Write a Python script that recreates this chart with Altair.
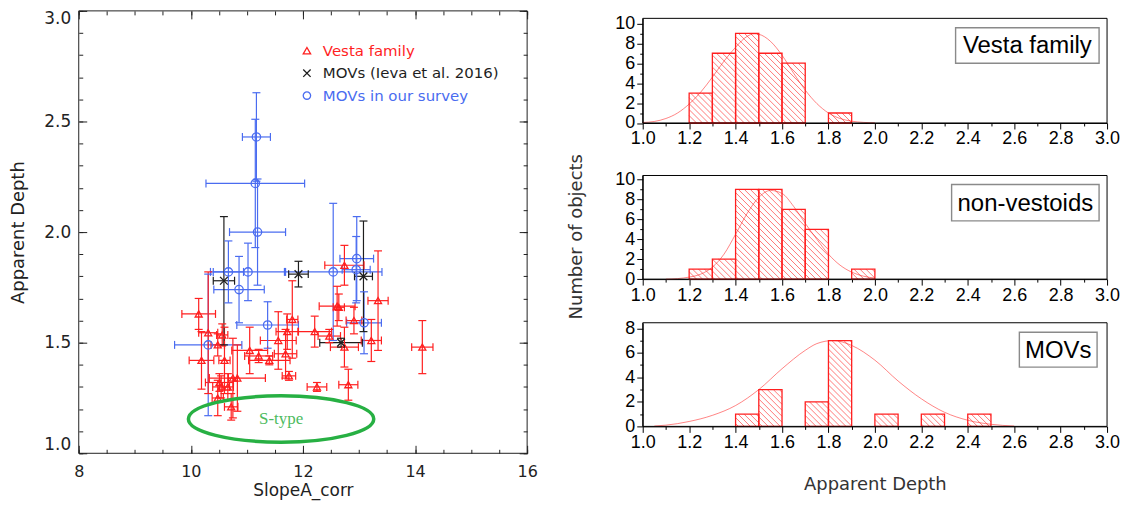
import altair as alt
import numpy as np
import pandas as pd

# ---------------- left panel data (SlopeA_corr vs Apparent Depth) ----------------
# Vesta family (red triangles)
vesta_x = [10.14, 10.19, 10.31, 10.48, 10.56, 10.60, 10.51, 10.54, 10.48, 10.72, 10.75,
           10.83, 11.05, 11.21, 11.40, 11.56, 11.69, 11.72, 11.81, 11.75, 12.21, 12.47,
           12.25, 12.61, 12.64, 12.74, 12.74, 12.81, 12.91, 13.22, 13.34, 14.13, 10.66]
vesta_y = [1.63, 1.42, 1.545, 1.49, 1.535, 1.42, 1.32, 1.30, 1.25, 1.21, 1.34,
           1.34, 1.465, 1.44, 1.42, 1.51, 1.45, 1.55, 1.605, 1.35, 1.55, 1.53,
           1.30, 1.665, 1.66, 1.85, 1.48, 1.31, 1.60, 1.51, 1.69, 1.48, 1.30]
vesta_xerr = [0.30, 0.22, 0.17, 0.12, 0.10, 0.10, 0.25, 0.15, 0.10, 0.12, 0.08,
              0.50, 0.32, 0.25, 0.37, 0.32, 0.20, 0.20, 0.10, 0.12, 0.30, 0.20,
              0.175, 0.32, 0.10, 0.35, 0.25, 0.17, 0.14, 0.18, 0.18, 0.19, 0.10]
vesta_yerr = [0.07, 0.13, 0.275, 0.05, 0.05, 0.15, 0.04, 0.05, 0.08, 0.06, 0.18,
              0.15, 0.105, 0.03, 0.02, 0.13, 0.11, 0.08, 0.175, 0.02, 0.07, 0.03,
              0.02, 0.09, 0.06, 0.09, 0.09, 0.07, 0.06, 0.095, 0.225, 0.12, 0.06]

# MOVs (Ieva et al. 2016) (black crosses)
ieva_x = [10.59, 11.92, 13.08, 12.68]
ieva_y = [1.78, 1.81, 1.80, 1.50]
ieva_xerr = [0.19, 0.175, 0.16, 0.38]
ieva_yerr = [0.29, 0.058, 0.25, 0.02]

# MOVs in our survey (blue circles)
our_x = [11.17, 11.15, 11.19, 10.67, 11.02, 12.54, 12.95, 12.96, 13.09, 10.86, 11.37, 10.31]
our_y = [2.43, 2.22, 2.00, 1.82, 1.82, 1.82, 1.83, 1.88, 1.59, 1.74, 1.58, 1.49]
our_xerr = [0.25, 0.88, 0.50, 0.27, 0.67, 0.87, 0.25, 0.30, 0.31, 0.45, 0.55, 0.60]
our_yerr = [0.20, 0.29, 0.24, 0.14, 0.13, 0.31, 0.15, 0.19, 0.14, 0.15, 0.105, 0.32]

legend_labels = ["Vesta family", "MOVs (Ieva et al. 2016)", "MOVs in our survey"]

stype_label = "S-type"
stype_center_x = [11.61]
stype_center_y = [1.155]

# ---------------- right panels data (histograms of Apparent Depth) ----------------
bin_left = [round(1.0 + 0.1 * i, 1) for i in range(20)]
vesta_counts = [0, 0, 3, 7, 9, 7, 6, 0, 1, 0, 0, 0, 0, 0, 0, 0, 0, 0, 0, 0]
nonvest_counts = [0, 0, 1, 2, 9, 9, 7, 5, 0, 1, 0, 0, 0, 0, 0, 0, 0, 0, 0, 0]
movs_counts = [0, 0, 0, 0, 1, 3, 0, 2, 7, 0, 1, 0, 1, 0, 1, 0, 0, 0, 0, 0]

vesta_fit_x = [1.00, 1.05, 1.10, 1.15, 1.20, 1.25, 1.30, 1.35, 1.40, 1.45, 1.48, 1.50,
               1.55, 1.60, 1.65, 1.70, 1.75, 1.80, 1.85, 1.90, 1.95, 2.00]
vesta_fit_y = [0.05, 0.15, 0.45, 1.0, 1.9, 3.1, 4.6, 6.2, 7.6, 8.7, 8.95, 8.9,
               8.2, 6.8, 5.0, 3.3, 1.95, 1.0, 0.45, 0.18, 0.06, 0.02]
nonvest_fit_x = [1.10, 1.15, 1.20, 1.25, 1.30, 1.35, 1.40, 1.45, 1.50, 1.55, 1.60,
                 1.65, 1.70, 1.75, 1.80, 1.85, 1.90, 1.95, 2.00]
nonvest_fit_y = [0.0, 0.05, 0.2, 0.5, 1.2, 2.5, 4.5, 6.6, 8.2, 8.9, 8.6,
                 7.3, 5.6, 4.0, 2.5, 1.4, 0.7, 0.3, 0.1]
movs_fit_x = [1.05, 1.10, 1.20, 1.30, 1.40, 1.50, 1.60, 1.70, 1.75, 1.82, 1.90,
              2.00, 2.10, 2.20, 2.30, 2.40, 2.50, 2.60]
movs_fit_y = [0.03, 0.1, 0.4, 0.9, 1.7, 3.0, 4.7, 6.2, 6.75, 7.0, 6.6,
              5.4, 3.7, 2.25, 1.15, 0.5, 0.17, 0.03]

# ---------------- styles ----------------
RED = "#ff1f1f"
BLUE = "#4a6cf0"
BLACK = "#1e1e1e"
TXT = "#222222"
HFONT = "DejaVu Sans"
AFONT = "Liberation Sans"
XSHAPE = "M-1,-1L1,1M-1,1L1,-1"

LW, LH = 450, 444          # left plot area
RW = 466                   # right plot width


def series(xs, ys, xe, ye, col, shp, sz):
    xs, ys, xe, ye = map(np.asarray, (xs, ys, xe, ye))
    return pd.DataFrame({"x": xs, "y": ys, "xlo": xs - xe, "xhi": xs + xe,
                         "ylo": ys - ye, "yhi": ys + ye,
                         "col": col, "shp": shp, "sz": sz})


pts = pd.concat([
    series(our_x, our_y, our_xerr, our_yerr, BLUE, "circle", 70),
    series(vesta_x, vesta_y, vesta_xerr, vesta_yerr, RED, "triangle-up", 50),
    series(ieva_x, ieva_y, ieva_xerr, ieva_yerr, BLACK, XSHAPE, 60),
], ignore_index=True)

vcaps = pd.concat([pts[["x", "ylo", "col"]].rename(columns={"ylo": "y"}),
                   pts[["x", "yhi", "col"]].rename(columns={"yhi": "y"})], ignore_index=True)
hcaps = pd.concat([pts[["xlo", "y", "col"]].rename(columns={"xlo": "x"}),
                   pts[["xhi", "y", "col"]].rename(columns={"xhi": "x"})], ignore_index=True)

XS = alt.Scale(domain=[8, 16], nice=False, zero=False)
YS = alt.Scale(domain=[1.0, 3.0], nice=False, zero=False)

x_major_vals = [8, 10, 12, 14, 16]
x_minor_vals = [round(8 + 0.5 * i, 1) for i in range(17)]
y_major_vals = [1.0, 1.5, 2.0, 2.5, 3.0]
y_minor_vals = [round(1.0 + 0.1 * i, 1) for i in range(21)]


def tick_axis(orient, values, offset, size):
    return alt.Axis(orient=orient, values=values, offset=offset, tickSize=size,
                    labels=False, domain=False, grid=False, tickColor=TXT, tickWidth=1)


x_major = alt.Axis(orient="bottom", values=x_major_vals, offset=-8, tickSize=8,
                   domain=False, grid=False, tickColor=TXT, format="d",
                   labelFont=HFONT, labelFontSize=16, labelColor=TXT, labelPadding=10,
                   labelFlush=False, titleFont=HFONT, titleFontSize=17,
                   titleFontWeight="normal", titleColor=TXT, titlePadding=3)
y_major = alt.Axis(orient="left", values=y_major_vals, offset=-8, tickSize=8,
                   domain=False, grid=False, tickColor=TXT, format=".1f",
                   labelFont=HFONT, labelFontSize=17, labelColor=TXT, labelPadding=8,
                   labelFlush=True, titleFont=HFONT, titleFontSize=18,
                   titleFontWeight="normal", titleColor=TXT, titlePadding=16)

vr = alt.Chart(pts).mark_rule(strokeWidth=1.2).encode(
    x=alt.X("x:Q", scale=XS, axis=x_major, title="SlopeA_corr"),
    y=alt.Y("ylo:Q", scale=YS, axis=y_major, title="Apparent Depth"),
    y2="yhi:Q",
    color=alt.Color("col:N", scale=None),
)
hr = alt.Chart(pts).mark_rule(strokeWidth=1.2).encode(
    x=alt.X("xlo:Q", scale=XS, axis=tick_axis("bottom", x_minor_vals, -4, 4), title=None),
    x2="xhi:Q",
    y=alt.Y("y:Q", scale=YS, axis=tick_axis("left", y_minor_vals, -4, 4), title=None),
    color=alt.Color("col:N", scale=None),
)
vc = alt.Chart(vcaps).mark_tick(orient="horizontal", size=8, thickness=1.2, opacity=1).encode(
    x=alt.X("x:Q", scale=XS, axis=tick_axis("top", x_major_vals, -8, 8), title=None),
    y=alt.Y("y:Q", scale=YS, axis=tick_axis("right", y_major_vals, -8, 8), title=None),
    color=alt.Color("col:N", scale=None),
)
hc = alt.Chart(hcaps).mark_tick(orient="vertical", size=8, thickness=1.2, opacity=1).encode(
    x=alt.X("x:Q", scale=XS, axis=tick_axis("top", x_minor_vals, -4, 4), title=None),
    y=alt.Y("y:Q", scale=YS, axis=tick_axis("right", y_minor_vals, -4, 4), title=None),
    color=alt.Color("col:N", scale=None),
)
marks = alt.Chart(pts).mark_point(filled=False, strokeWidth=1.3, opacity=1).encode(
    x=alt.X("x:Q", scale=XS, axis=None),
    y=alt.Y("y:Q", scale=YS, axis=None),
    shape=alt.Shape("shp:N", scale=None),
    size=alt.Size("sz:Q", scale=None),
    color=alt.Color("col:N", scale=None),
)

k, r = 0.5523, 0.25
ELLIPSE = (f"M1,0 C1,{k*r:.4f} {k},{r} 0,{r} C{-k},{r} -1,{k*r:.4f} -1,0 "
           f"C-1,{-k*r:.4f} {-k},{-r} 0,{-r} C{k},{-r} 1,{-k*r:.4f} 1,0 Z")
stype_df = pd.DataFrame({"x": stype_center_x, "y": stype_center_y, "t": [stype_label]})
ell = alt.Chart(stype_df).mark_point(shape=ELLIPSE, size=186 ** 2, filled=False,
                                     color="#27b043", strokeWidth=3.5, opacity=1).encode(
    x=alt.X("x:Q", scale=XS, axis=None), y=alt.Y("y:Q", scale=YS, axis=None))
stxt = alt.Chart(stype_df).mark_text(font="Liberation Serif", fontSize=17, color="#4dbb5e").encode(
    x=alt.X("x:Q", scale=XS, axis=None), y=alt.Y("y:Q", scale=YS, axis=None), text="t:N")

one = pd.DataFrame({"t": [""]})
left_frame = alt.Chart(one).mark_rect(fillOpacity=0, stroke="#222222", strokeWidth=1).encode(
    x=alt.value(0), x2=alt.value(LW), y=alt.value(0), y2=alt.value(LH))

legend_layers = []
leg_cols = [RED, BLACK, BLUE]
leg_shapes = ["triangle-up", XSHAPE, "circle"]
leg_y = [40, 62.5, 85]
for lab, col, shp, yy in zip(legend_labels, leg_cols, leg_shapes, leg_y):
    d = pd.DataFrame({"t": [lab]})
    legend_layers.append(alt.Chart(d).mark_point(shape=shp, filled=False, color=col, size=55,
                                                 strokeWidth=1.3, opacity=1).encode(
        x=alt.value(229), y=alt.value(yy)))
    legend_layers.append(alt.Chart(d).mark_text(font=HFONT, fontSize=15, color=col, align="left",
                                                baseline="middle").encode(
        x=alt.value(245), y=alt.value(yy), text="t:N"))

left = alt.layer(hr, vr, hc, vc, marks, ell, stxt, left_frame, *legend_layers).resolve_scale(
    x="independent", y="independent").properties(width=LW, height=LH)


# ---------------- histograms ----------------
def hatch(x0s, x1s, hs, H, ymax, step=6.0):
    sx = RW / 2.0
    sy = H / ymax
    segs = []
    for x0, x1, h in zip(x0s, x1s, hs):
        u0, u1, vh = (x0 - 1.0) * sx, (x1 - 1.0) * sx, h * sy
        for kk in range(int(np.floor(u0 / step)), int(np.ceil((u1 + vh) / step)) + 1):
            c = kk * step
            us, ue = max(u0, c - vh), min(u1, c)
            if ue - us > 0.5:
                segs.append({"x": 1.0 + us / sx, "y": (c - us) / sy,
                             "x2": 1.0 + ue / sx, "y2": (c - ue) / sy})
    return pd.DataFrame(segs)


def hist_panel(counts, fx, fy, label, box, ymax, H, pad, ytop, ytitle=None, xtitle=None):
    PH = H + pad
    bars = pd.DataFrame({"x0": bin_left, "x1": [round(b + 0.1, 1) for b in bin_left],
                         "c": counts})
    bars = bars[bars.c > 0].reset_index(drop=True)
    bars["z"] = 0
    hx = hatch(bars.x0, bars.x1, bars.c, H, ymax)
    fit = pd.DataFrame({"x": fx, "y": fy})
    HXS = alt.Scale(domain=[1.0, 3.0], nice=False, zero=False)
    HYS = alt.Scale(domain=[0, ymax], nice=False, zero=False, range=[PH, pad])
    xkw = dict(values=[round(1.0 + 0.1 * i, 1) for i in range(21)], format=".1f",
               labelExpr="round(datum.value*10) % 2 === 0 ? datum.label : ''",
               tickSize={"condition": {"test": "round(datum.value*10) % 2 === 0", "value": 6},
                         "value": 3},
               labelFlush=False, labelFont=AFONT, labelFontSize=18, labelColor="black",
               labelPadding=1, tickColor="black", domainColor="black", grid=False,
               labelOverlap=False)
    if xtitle:
        xkw.update(titleFont=HFONT, titleFontSize=18, titleFontWeight="normal",
                   titleColor="#333333", titlePadding=24)
    ykw = dict(values=list(range(0, ytop + 1)), format="d",
               labelExpr="datum.value % 2 === 0 ? datum.label : ''",
               tickSize={"condition": {"test": "datum.value % 2 === 0", "value": 6}, "value": 3},
               labelFont=AFONT, labelFontSize=18, labelColor="black", labelPadding=2,
               tickColor="black", domainColor="black", grid=False, labelOverlap=False)
    if ytitle:
        ykw.update(titleFont=HFONT, titleFontSize=18, titleFontWeight="normal",
                   titleColor="#333333", titlePadding=29, titleY=pad + H / 2 + 9)

    def X(f):
        return alt.X(f, scale=HXS, axis=alt.Axis(**xkw), title=xtitle)

    def Y(f):
        return alt.Y(f, scale=HYS, axis=alt.Axis(**ykw), title=ytitle)

    outline = alt.Chart(bars).mark_rect(fillOpacity=0, stroke=RED, strokeWidth=1.3).encode(
        x=X("x0:Q"), x2="x1:Q", y=Y("z:Q"), y2="c:Q")
    lines = alt.Chart(hx).mark_rule(color="#ff2a2a", strokeWidth=0.9, opacity=0.7).encode(
        x=X("x:Q"), y=Y("y:Q"), x2="x2:Q", y2="y2:Q")
    curve = alt.Chart(fit).mark_line(color=RED, strokeWidth=1, opacity=0.55,
                                     interpolate="monotone").encode(x=X("x:Q"), y=Y("y:Q"))
    d = pd.DataFrame({"t": [label]})
    frame = alt.Chart(d).mark_rect(fillOpacity=0, stroke="black", strokeWidth=1).encode(
        x=alt.value(0), x2=alt.value(RW), y=alt.value(pad), y2=alt.value(PH))
    tbox = alt.Chart(d).mark_rect(fill="white", stroke="#8a8a8a", strokeWidth=1.4).encode(
        x=alt.value(box[0]), x2=alt.value(box[1]),
        y=alt.value(pad + box[2]), y2=alt.value(pad + box[3]))
    text = alt.Chart(d).mark_text(font=AFONT, fontSize=24, color="black").encode(
        x=alt.value((box[0] + box[1]) / 2), y=alt.value(pad + (box[2] + box[3]) / 2 + 1),
        text="t:N")
    return alt.layer(lines, outline, curve, frame, tbox, text).properties(width=RW, height=PH)


top = hist_panel(vesta_counts, vesta_fit_x, vesta_fit_y, "Vesta family",
                 (314, 458, 9.5, 45), 10.5, 105, 7.5, 10)
mid = hist_panel(nonvest_counts, nonvest_fit_x, nonvest_fit_y, "non-vestoids",
                 (310, 458, 9, 45.5), 10.4, 104, 9.2, 10, ytitle="Number of objects")
bot = hist_panel(movs_counts, movs_fit_x, movs_fit_y, "MOVs",
                 (378, 456, 9.5, 44.5), 8.45, 104, 0, 8, xtitle="Apparent Depth")

right = alt.vconcat(top, mid, bot, spacing=43, bounds="flush")

chart = alt.hconcat(left, right, spacing=29).properties(
    padding={"left": 1, "top": 0, "right": 0, "bottom": 4}
).configure_view(stroke="transparent")

chart.save("out.html", embed_options={"renderer": "svg", "actions": False})
